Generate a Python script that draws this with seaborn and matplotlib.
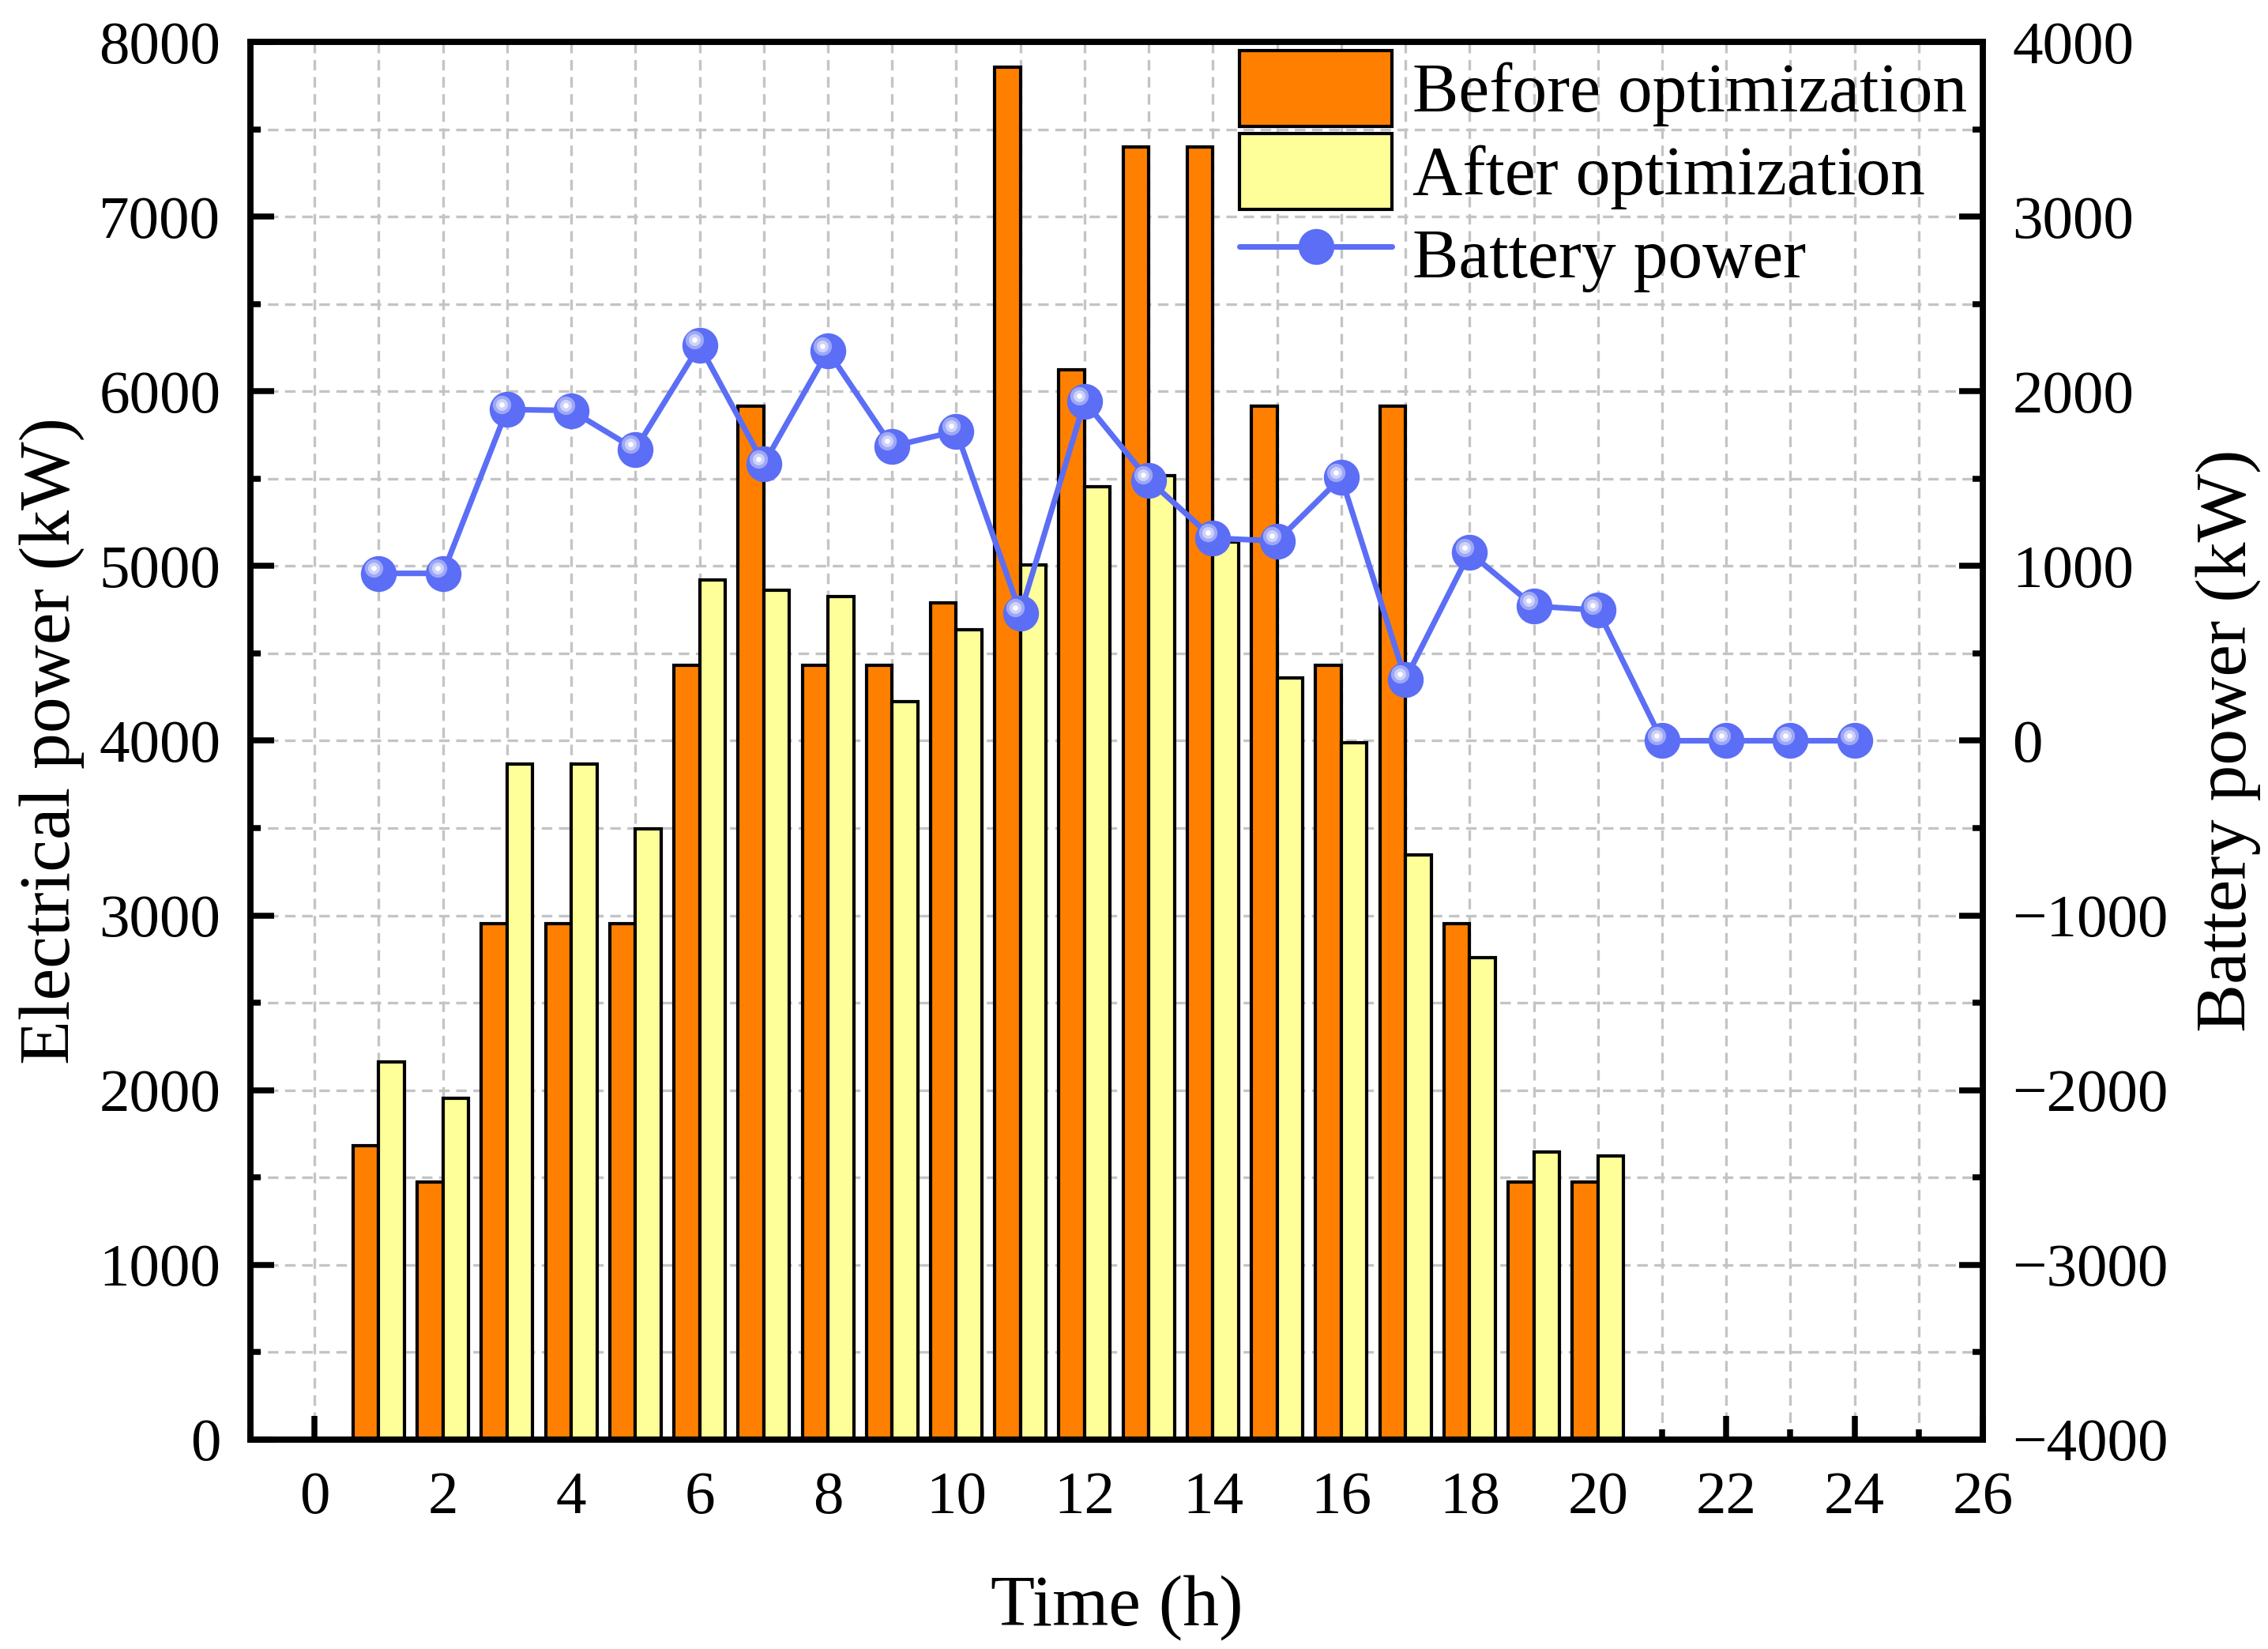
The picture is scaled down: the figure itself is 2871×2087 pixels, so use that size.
import numpy as np
import pandas as pd
import matplotlib
matplotlib.use("Agg")
import matplotlib.pyplot as plt
import seaborn as sns
from matplotlib.patches import Patch
from matplotlib.lines import Line2D
from matplotlib.ticker import MultipleLocator
from matplotlib.transforms import offset_copy

# hours 1-20 for the load bars
hours = list(range(1, 21))
before_opt = [1680, 1475, 2955, 2955, 2955, 4430, 5916, 4430, 4430, 4788,
              7856, 6124, 7397, 7397, 5916, 4433, 5916, 2955, 1475, 1475]
after_opt = [2162, 1954, 3867, 3867, 3495, 4918, 4860, 4825, 4222, 4635,
             5007, 5452, 5518, 5137, 4358, 3988, 3345, 2759, 1648, 1622]

# battery power over the full day
bat_hours = list(range(1, 25))
battery = [958, 958, 1896, 1890, 1668, 2263, 1584, 2231, 1685, 1772,
           730, 1942, 1492, 1160, 1143, 1507, 352, 1077, 771, 747,
           0, 0, 0, 0]

labels = ["Before optimization", "After optimization", "Battery power"]
orange = "#ff8000"
yellow = "#ffff99"
blue = "#5b6ef5"

df = pd.DataFrame({
    "hour": hours * 2,
    "power": before_opt + after_opt,
    "case": [labels[0]] * len(hours) + [labels[1]] * len(hours),
})

sns.set_style("ticks")
plt.rcParams["font.family"] = ["Liberation Serif", "DejaVu Serif"]
plt.rcParams["axes.unicode_minus"] = True
for key in ["text.color", "axes.labelcolor", "xtick.color", "ytick.color",
            "axes.edgecolor"]:
    plt.rcParams[key] = "black"

fig, ax = plt.subplots(figsize=(2871 / 300, 2087 / 300), dpi=300)
fig.subplots_adjust(left=0.1104, right=0.8743, top=0.9746, bottom=0.127)

sns.barplot(data=df, x="hour", y="power", hue="case", native_scale=True,
            palette=[orange, yellow], saturation=1, width=0.8, errorbar=None,
            edgecolor="black", linewidth=1.0, legend=False, ax=ax)

ax.set_xlim(-1, 26)
ax.set_ylim(0, 8000)
ax.xaxis.set_major_locator(MultipleLocator(2))
ax.xaxis.set_minor_locator(MultipleLocator(1))
ax.yaxis.set_major_locator(MultipleLocator(1000))
ax.yaxis.set_minor_locator(MultipleLocator(500))
ax.set_axisbelow(True)
ax.grid(which="both", color="#c4c4c4", linestyle=(0, (4, 2.5)), linewidth=0.8)

ax2 = ax.twinx()
ms = 10.9
sns.lineplot(x=bat_hours, y=battery, ax=ax2, color=blue, linewidth=1.7,
             marker="o", markersize=ms, markeredgewidth=0, zorder=3)
# glossy highlight on the markers
hl = offset_copy(ax2.transData, fig=fig, x=-1.6, y=1.6, units="points")
for size, col, z in [(5.6, "#9ea8f6", 4), (3.6, "#cdd2fb", 5), (1.6, "white", 6)]:
    ax2.plot(bat_hours, battery, linestyle="none", marker="o", ms=size,
             color=col, markeredgewidth=0, transform=hl, zorder=z)
ax2.set_ylim(-4000, 4000)
ax2.yaxis.set_major_locator(MultipleLocator(1000))
ax2.yaxis.set_minor_locator(MultipleLocator(500))

fs_tick = 18.5
fs_label = 22
for a in (ax, ax2):
    for sp in a.spines.values():
        sp.set_visible(True)
        sp.set_linewidth(1.8)
        sp.set_color("black")
ax.tick_params(which="both", direction="in", top=False, right=False,
               width=1.8, labelsize=fs_tick, colors="black")
ax.tick_params(which="major", length=7.2)
ax.tick_params(which="minor", length=3.2)
ax.tick_params(axis="y", pad=9)
ax.tick_params(axis="x", pad=9.5)
ax2.tick_params(which="both", direction="in", left=False, right=True,
                width=1.8, labelsize=fs_tick, pad=9, colors="black")
ax2.tick_params(which="major", length=7.2)
ax2.tick_params(which="minor", length=3.2)

ax.set_xlabel("Time (h)", fontsize=fs_label, labelpad=15)
ax.set_ylabel("Electrical power (kW)", fontsize=fs_label, labelpad=4.5)
ax2.set_ylabel("Battery power (kW)", fontsize=fs_label, labelpad=8)

handles = [
    Patch(facecolor=orange, edgecolor="black", linewidth=1.0),
    Patch(facecolor=yellow, edgecolor="black", linewidth=1.0),
    Line2D([], [], color=blue, linewidth=1.7, marker="o", markersize=ms,
           markeredgewidth=0),
]
ax2.legend(handles, labels, loc="upper left", bbox_to_anchor=(0.571, 0.994),
           frameon=False, fontsize=21, handlelength=2.2, handleheight=1.31,
           handletextpad=0.3, labelspacing=0.1, borderpad=0, borderaxespad=0)

fig.savefig("out.png", dpi=300)
